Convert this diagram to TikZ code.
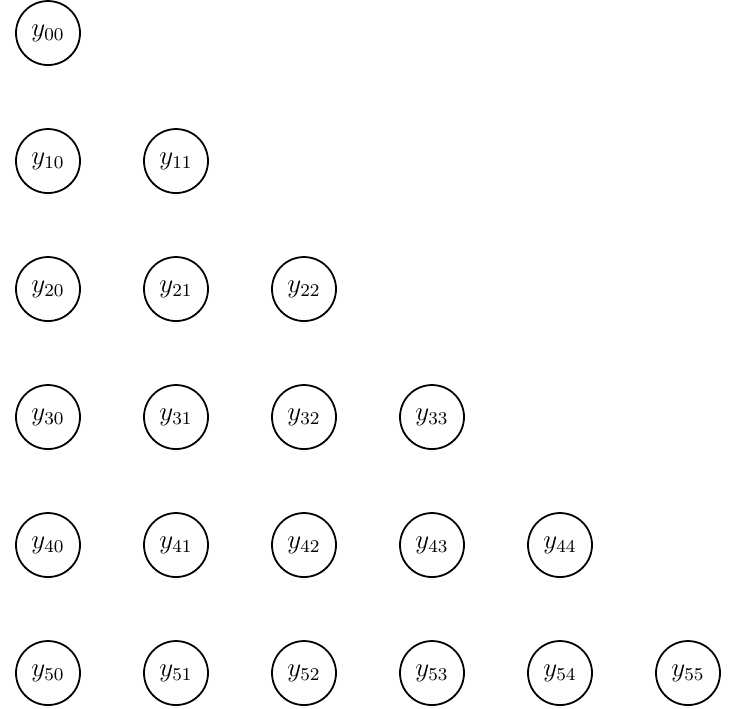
\documentclass[tikz,border=0pt]{standalone}
\begin{document}
\begin{tikzpicture}[
        every node/.style={draw, circle, minimum size=1cm, inner sep=0pt, text centered, thick, font=\large},
    ]
    \useasboundingbox (-0.75,0.516) rectangle (10.672,-10.547);
    \foreach \i in {0,...,5}{
        \foreach \j in {0,...,\i}{
            \node (y\i\j) at (2*\j,-2*\i) {$y_{\i\j}$};
        }
    }
    \end{tikzpicture}
\end{document}
